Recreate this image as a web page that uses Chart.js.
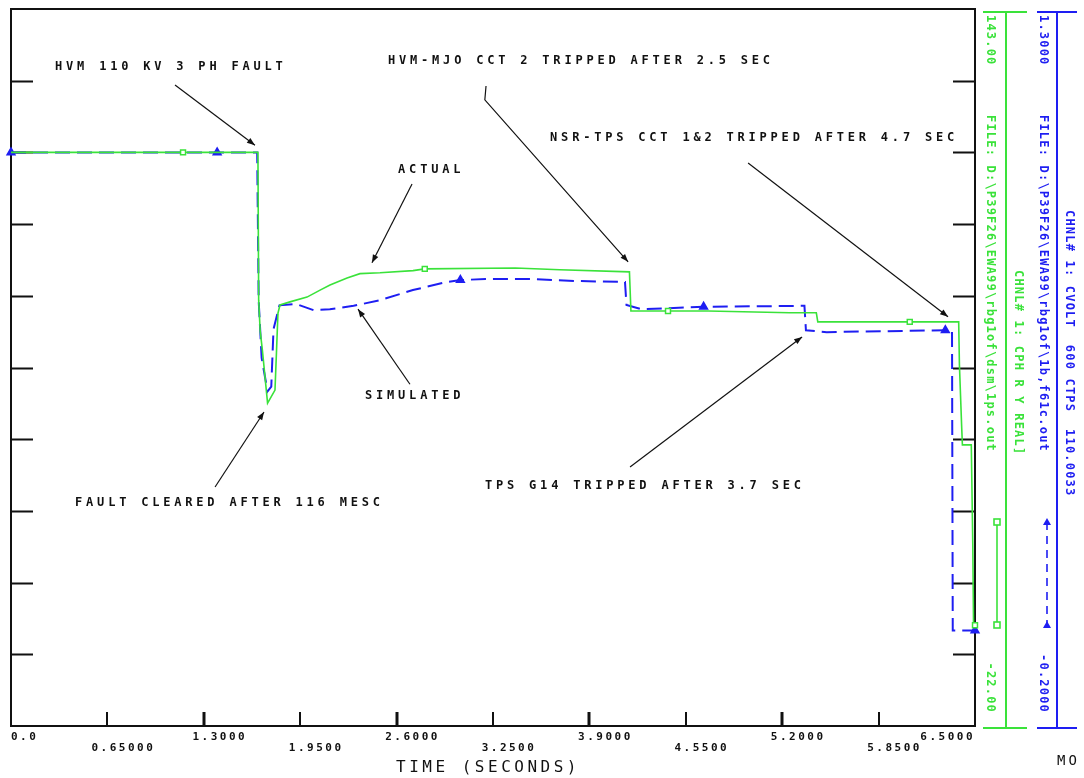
<!DOCTYPE html>
<html>
<head>
<meta charset="utf-8">
<script src="https://cdn.jsdelivr.net/npm/chart.js@4.4.1/dist/chart.umd.min.js"></script>
<style>
html, body { margin: 0; padding: 0; background: #fff; }
</style>
</head>
<body>
<canvas id="grafico" width="1084" height="778"></canvas>
<script>
// tiempo en segundos, simulado en p.u. (escala azul), real en escala verde
const tiempoSim = [0, 1.39, 1.66, 1.67, 1.69, 1.73, 1.755, 1.77, 1.81, 1.92, 2.04, 2.15, 2.31, 2.49, 2.71, 2.94, 3.03, 3.2, 3.5, 3.8, 4.14, 4.15, 4.25, 4.67, 5.35, 5.36, 5.5, 6.30, 6.345, 6.35, 6.5];
const valorSim  = [1.0, 1.0, 1.0, 0.69, 0.57, 0.50, 0.51, 0.63, 0.68, 0.683, 0.67, 0.672, 0.679, 0.691, 0.712, 0.729, 0.733, 0.735, 0.735, 0.731, 0.729, 0.681, 0.672, 0.677, 0.679, 0.628, 0.624, 0.628, 0.628, 0.0, 0.0];
const marcasSim = [0, 1.39, 3.03, 4.67, 6.30, 6.5];

const tiempoReal = [0, 1.16, 1.665, 1.67, 1.68, 1.695, 1.73, 1.78, 1.79, 1.80, 1.814, 1.881, 1.996, 2.084, 2.151, 2.266, 2.353, 2.488, 2.711, 2.79, 3.4, 3.7, 4.17, 4.18, 4.43, 4.7, 5.25, 5.43, 5.44, 6.06, 6.39, 6.395, 6.41, 6.415, 6.475, 6.485, 6.49, 6.5];
const valorReal  = [110, 110, 110, 76, 69, 64.5, 52.3, 55.3, 64, 73, 74.9, 75.6, 76.7, 78.3, 79.5, 81.1, 82.1, 82.3, 82.8, 83.2, 83.4, 83.0, 82.5, 73.5, 73.5, 73.5, 73.1, 73.1, 71.0, 71.0, 71.0, 61.1, 47, 42.7, 42.7, 20, 1.7, 1.2];
const marcasReal = [1.16, 2.79, 4.43, 6.06, 6.5];

const ticksX = [0, 0.65, 1.3, 1.95, 2.6, 3.25, 3.9, 4.55, 5.2, 5.85, 6.5];
const etiquetasX = ['0.0', '0.65000', '1.3000', '1.9500', '2.6000', '3.2500', '3.9000', '4.5500', '5.2000', '5.8500', '6.5000'];
const ticksY = [-0.05, 0.10, 0.25, 0.40, 0.55, 0.70, 0.85, 1.00, 1.15];

const notas = [
    { texto: 'HVM 110 KV 3 PH FAULT', t: 0.297, v: 1.179, linea: [[1.106, 1.141], [1.645, 1.015]] },
    { texto: 'HVM-MJO CCT 2 TRIPPED AFTER 2.5 SEC', t: 2.542, v: 1.191, linea: [[3.203, 1.139], [3.195, 1.110], [4.161, 0.771]] },
    { texto: 'NSR-TPS CCT 1&2 TRIPPED AFTER 4.7 SEC', t: 3.635, v: 1.030, linea: [[4.970, 0.978], [6.318, 0.656]] },
    { texto: 'ACTUAL', t: 2.610, v: 0.963, linea: [[2.704, 0.934], [2.434, 0.769]] },
    { texto: 'SIMULATED', t: 2.387, v: 0.490, linea: [[2.690, 0.515], [2.340, 0.672]] },
    { texto: 'FAULT CLEARED AFTER 116 MESC', t: 0.432, v: 0.267, linea: [[1.376, 0.300], [1.706, 0.457]] },
    { texto: 'TPS G14 TRIPPED AFTER 3.7 SEC', t: 3.196, v: 0.302, linea: [[4.174, 0.342], [5.334, 0.614]] }
];

const MONO = '"DejaVu Sans Mono", "Liberation Mono", monospace';
const negro = '#111111';
const verde = '#3ae23a';
const azul = '#1e1ef2';

const puntos = (ts, vs) => ts.map((t, i) => ({ x: t, y: vs[i] }));

function textoVertical(ctx, txt, x, y, color) {
    ctx.save();
    ctx.translate(x, y);
    ctx.rotate(Math.PI / 2);
    ctx.fillStyle = color;
    ctx.textAlign = 'left';
    ctx.textBaseline = 'middle';
    ctx.fillText(txt, 0, 0);
    ctx.restore();
}

function punta(ctx, x0, y0, x1, y1) {
    const a = Math.atan2(y1 - y0, x1 - x0);
    ctx.beginPath();
    ctx.moveTo(x1, y1);
    ctx.lineTo(x1 - 8 * Math.cos(a) + 3 * Math.sin(a), y1 - 8 * Math.sin(a) - 3 * Math.cos(a));
    ctx.lineTo(x1 - 8 * Math.cos(a) - 3 * Math.sin(a), y1 - 8 * Math.sin(a) + 3 * Math.cos(a));
    ctx.closePath();
    ctx.fill();
}

const marco = {
    id: 'marco',
    beforeDatasetsDraw(chart) {
        const { ctx, chartArea: a, scales } = chart;
        ctx.save();
        ctx.strokeStyle = negro;
        ctx.lineWidth = 2;
        ctx.strokeRect(a.left, a.top, a.right - a.left, a.bottom - a.top);
        ctx.lineWidth = 2;
        ticksY.forEach(v => {
            const y = Math.round(scales.y.getPixelForValue(v)) + 0.5;
            ctx.beginPath();
            ctx.moveTo(a.left, y); ctx.lineTo(a.left + 22, y);
            ctx.moveTo(a.right - 22, y); ctx.lineTo(a.right, y);
            ctx.stroke();
        });
        ticksX.forEach((t, i) => {
            if (i === 0 || i === ticksX.length - 1) return;
            const x = Math.round(scales.x.getPixelForValue(t));
            ctx.lineWidth = i % 2 === 0 ? 3 : 2;
            ctx.beginPath();
            ctx.moveTo(x, a.bottom); ctx.lineTo(x, a.bottom - 14);
            ctx.stroke();
        });
        ctx.restore();
    },
    afterDraw(chart) {
        const { ctx, chartArea: a, scales } = chart;
        ctx.save();

        // etiquetas del eje de tiempo
        ctx.fillStyle = negro;
        ctx.font = 'bold 11px ' + MONO;
        ctx.letterSpacing = '2.5px';
        ctx.textBaseline = 'middle';
        ticksX.forEach((t, i) => {
            const x = scales.x.getPixelForValue(t);
            const y = a.bottom + (i % 2 === 0 ? 11 : 22);
            if (i === 0) { ctx.textAlign = 'left'; ctx.fillText(etiquetasX[i], x, y); }
            else if (i === ticksX.length - 1) { ctx.textAlign = 'right'; ctx.fillText(etiquetasX[i], x, y); }
            else { ctx.textAlign = 'center'; ctx.fillText(etiquetasX[i], x + 16, y); }
        });
        ctx.font = '16px ' + MONO;
        ctx.letterSpacing = '3.5px';
        ctx.textAlign = 'center';
        ctx.fillText('TIME (SECONDS)', 488, 768);
        ctx.font = '14px ' + MONO;
        ctx.letterSpacing = '3px';
        ctx.textAlign = 'left';
        ctx.fillText('MO', 1057, 761);

        // anotaciones
        ctx.font = 'bold 12px ' + MONO;
        ctx.letterSpacing = '3.8px';
        ctx.textAlign = 'left';
        ctx.strokeStyle = negro;
        ctx.lineWidth = 1.2;
        notas.forEach(n => {
            ctx.fillText(n.texto, scales.x.getPixelForValue(n.t), scales.y.getPixelForValue(n.v));
            const p = n.linea.map(([t, v]) => [scales.x.getPixelForValue(t), scales.y.getPixelForValue(v)]);
            ctx.beginPath();
            ctx.moveTo(p[0][0], p[0][1]);
            p.slice(1).forEach(q => ctx.lineTo(q[0], q[1]));
            ctx.stroke();
            const k = p.length - 1;
            punta(ctx, p[k - 1][0], p[k - 1][1], p[k][0], p[k][1]);
        });

        // ejes de leyenda a la derecha
        const ejes = [
            { x: 1006, c0: 983, c1: 1027, color: verde, esc: scales.y2, dec: 2, col: 990,
              file: 'FILE: D:\\P39F26\\EWA99\\rbg1of\\dsm\\1ps.out', chnl: 'CHNL# 1: CPH R Y REAL]', chY: 270 },
            { x: 1057, c0: 1037, c1: 1077, color: azul, esc: scales.y, dec: 4, col: 1043,
              file: 'FILE: D:\\P39F26\\EWA99\\rbg1of\\1b,f61c.out', chnl: 'CHNL# 1: CVOLT  600 CTPS  110.0033', chY: 210 }
        ];
        ejes.forEach(e => {
            ctx.strokeStyle = e.color;
            ctx.lineWidth = 2;
            ctx.beginPath();
            ctx.moveTo(e.x, 12); ctx.lineTo(e.x, 728);
            ctx.moveTo(e.c0, 12); ctx.lineTo(e.c1, 12);
            ctx.moveTo(e.c0, 728); ctx.lineTo(e.c1, 728);
            ctx.stroke();
            ctx.font = 'bold 12px ' + MONO;
            ctx.letterSpacing = '1.2px';
            textoVertical(ctx, e.esc.max.toFixed(e.dec), e.col, 15, e.color);
            textoVertical(ctx, e.file, e.col, 115, e.color);
            textoVertical(ctx, e.chnl, e.x + 12, e.chY, e.color);
            const minTxt = e.esc.min.toFixed(e.dec);
            textoVertical(ctx, minTxt, e.col, 713 - ctx.measureText(minTxt).width, e.color);
        });

        // muestras de leyenda
        ctx.strokeStyle = verde;
        ctx.lineWidth = 1.6;
        ctx.beginPath(); ctx.moveTo(997, 522); ctx.lineTo(997, 625); ctx.stroke();
        ctx.fillStyle = '#fff';
        [522, 625].forEach(y => { ctx.fillRect(994, y - 3, 6, 6); ctx.strokeRect(994, y - 3, 6, 6); });
        ctx.strokeStyle = azul;
        ctx.lineWidth = 1.6;
        ctx.setLineDash([8, 6]);
        ctx.beginPath(); ctx.moveTo(1047, 522); ctx.lineTo(1047, 625); ctx.stroke();
        ctx.setLineDash([]);
        ctx.fillStyle = azul;
        [522, 625].forEach(y => {
            ctx.beginPath(); ctx.moveTo(1047, y - 4); ctx.lineTo(1051, y + 3); ctx.lineTo(1043, y + 3); ctx.closePath(); ctx.fill();
        });
        ctx.restore();
    }
};

new Chart(document.getElementById('grafico'), {
    type: 'line',
    data: {
        datasets: [
            {
                label: 'Actual',
                data: puntos(tiempoReal, valorReal),
                yAxisID: 'y2',
                borderColor: verde,
                borderWidth: 1.6,
                tension: 0,
                clip: false,
                pointStyle: 'rect',
                pointRadius: c => (c.raw && marcasReal.includes(c.raw.x)) ? 3.5 : 0,
                pointBackgroundColor: '#fff',
                pointBorderColor: verde,
                pointBorderWidth: 1.5
            },
            {
                label: 'Simulated',
                data: puntos(tiempoSim, valorSim),
                yAxisID: 'y',
                borderColor: azul,
                borderWidth: 2,
                borderDash: [15, 7],
                tension: 0,
                clip: false,
                pointStyle: 'triangle',
                pointRadius: c => (c.raw && marcasSim.includes(c.raw.x)) ? 4 : 0,
                pointBackgroundColor: azul,
                pointBorderColor: azul
            }
        ]
    },
    options: {
        responsive: false,
        animation: false,
        events: [],
        layout: { padding: { left: 11, right: 109, top: 9, bottom: 52 } },
        plugins: { legend: { display: false }, tooltip: { enabled: false } },
        scales: {
            x: { type: 'linear', min: 0, max: 6.5, display: false },
            y: { type: 'linear', min: -0.2, max: 1.3, display: false },
            y2: { type: 'linear', min: -22, max: 143, display: false }
        }
    },
    plugins: [marco]
});
</script>
</body>
</html>
